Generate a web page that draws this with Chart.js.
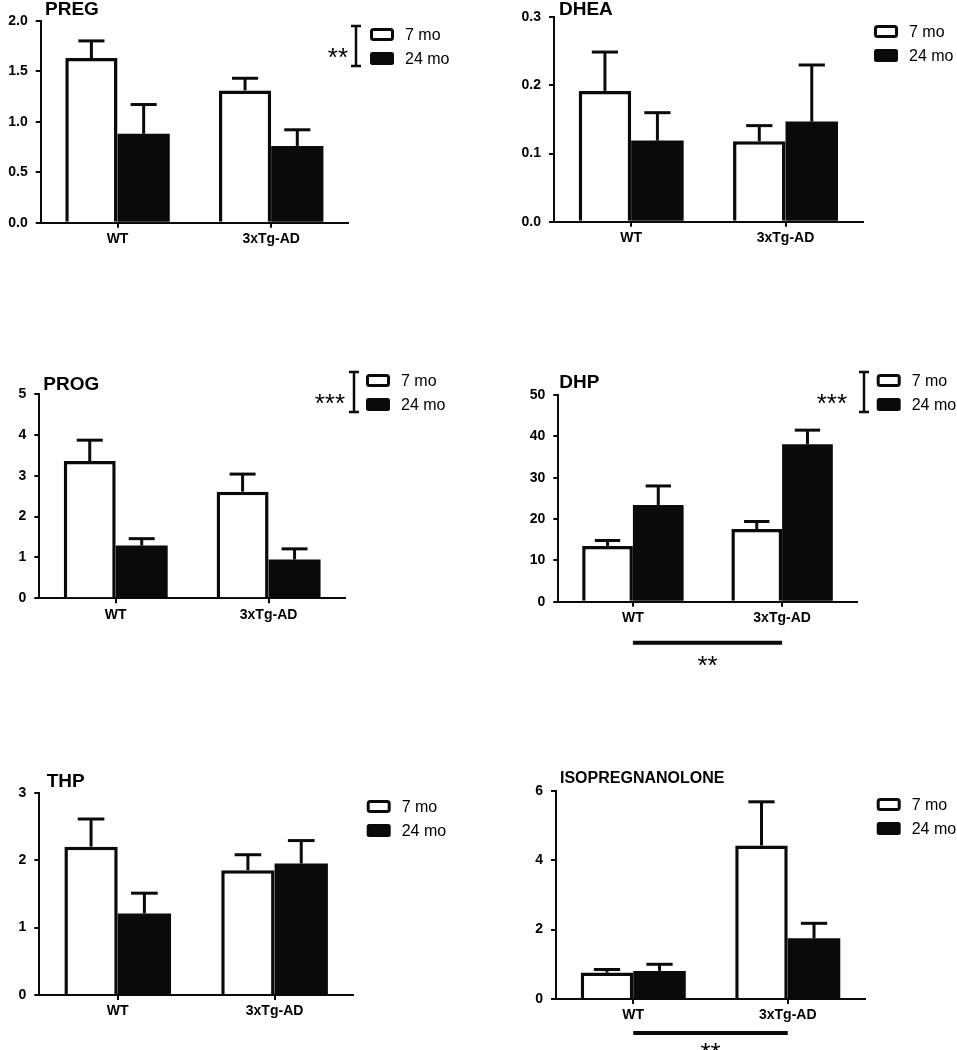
<!DOCTYPE html>
<html><head><meta charset="utf-8">
<script src="https://cdn.jsdelivr.net/npm/chart.js@4.4.1/dist/chart.umd.min.js"></script>
<style>
html,body{margin:0;padding:0;background:#fff;}
body{width:957px;height:1050px;position:relative;overflow:hidden;}
canvas{position:absolute;}
</style></head><body>
<canvas id="c0"></canvas><canvas id="c1"></canvas><canvas id="c2"></canvas>
<canvas id="c3"></canvas><canvas id="c4"></canvas><canvas id="c5"></canvas>
<script>
// ---------- DATA ----------
const categories = ['WT', '3xTg-AD'];
const seriesLabels = ['7 mo', '24 mo'];
const panelTitles = ['PREG', 'DHEA', 'PROG', 'DHP', 'THP', 'ISOPREGNANOLONE'];

const preg7 = [1.63, 1.31];   const preg7Sem = [0.17, 0.12];
const preg24 = [0.88, 0.76];  const preg24Sem = [0.29, 0.16];
const dhea7 = [0.192, 0.118]; const dhea7Sem = [0.057, 0.023];
const dhea24 = [0.119, 0.147];const dhea24Sem = [0.041, 0.083];
const prog7 = [3.36, 2.61];   const prog7Sem = [0.51, 0.43];
const prog24 = [1.29, 0.95];  const prog24Sem = [0.17, 0.26];
const dhp7 = [13.5, 17.6];    const dhp7Sem = [1.3, 1.8];
const dhp24 = [23.4, 38.1];   const dhp24Sem = [4.6, 3.4];
const thp7 = [2.20, 1.85];    const thp7Sem = [0.41, 0.23];
const thp24 = [1.21, 1.95];   const thp24Sem = [0.30, 0.34];
const iso7 = [0.76, 4.42];    const iso7Sem = [0.09, 1.26];
const iso24 = [0.81, 1.75];   const iso24Sem = [0.19, 0.43];

const pregTicks = ['0.0', '0.5', '1.0', '1.5', '2.0'];
const dheaTicks = ['0.0', '0.1', '0.2', '0.3'];
const progTicks = ['0', '1', '2', '3', '4', '5'];
const dhpTicks = ['0', '10', '20', '30', '40', '50'];
const thpTicks = ['0', '1', '2', '3'];
const isoTicks = ['0', '2', '4', '6'];

const ageSig = ['**', '', '***', '***', '', ''];
const genotypeSig = ['', '', '', '**', '', '**'];

// ---------- assembly ----------
const panelData = [
  [preg7, preg7Sem, preg24, preg24Sem, pregTicks, 2.0, 0.5],
  [dhea7, dhea7Sem, dhea24, dhea24Sem, dheaTicks, 0.3, 0.1],
  [prog7, prog7Sem, prog24, prog24Sem, progTicks, 5, 1],
  [dhp7, dhp7Sem, dhp24, dhp24Sem, dhpTicks, 50, 10],
  [thp7, thp7Sem, thp24, thp24Sem, thpTicks, 3, 1],
  [iso7, iso7Sem, iso24, iso24Sem, isoTicks, 6, 2]
];

// layout (page pixels)
const layouts = [
  {cv:[0,0,478,300],    plot:[40.7,20.7,348,222.7],  title:[45,15,19],    leg:[370,28],    sig:{x:356,right:348}},
  {cv:[478,0,479,300],  plot:[554,17.3,862.7,221.7], title:[559,15,19],   leg:[874,25]},
  {cv:[0,300,478,380],  plot:[39.3,394,345,598.3],   title:[43.3,390,19], leg:[366,374],   sig:{x:354,right:345}},
  {cv:[478,300,479,380],plot:[558.3,395,856.7,601.7],title:[559.3,388,19],leg:[876.7,374], sig:{x:864,right:847}, geno:{lineY:642.7, textBase:674}},
  {cv:[0,680,478,370],  plot:[39.3,792.7,353,995],   title:[46.7,787,19], leg:[366.7,800]},
  {cv:[478,680,479,370],plot:[556,790.7,865,999],    title:[560,783,16],  leg:[876.7,798], geno:{lineY:1033, textBase:1061}}
];

const FONT = "'Liberation Sans', Arial, sans-serif";
Chart.defaults.font.family = FONT;
Chart.defaults.color = '#000';
const YW = 39, XH = 40, INK = '#0a0a0a';

function roundRect(ctx, x, y, w, h, r) {
  ctx.beginPath();
  ctx.moveTo(x + r, y); ctx.lineTo(x + w - r, y); ctx.quadraticCurveTo(x + w, y, x + w, y + r);
  ctx.lineTo(x + w, y + h - r); ctx.quadraticCurveTo(x + w, y + h, x + w - r, y + h);
  ctx.lineTo(x + r, y + h); ctx.quadraticCurveTo(x, y + h, x, y + h - r);
  ctx.lineTo(x, y + r); ctx.quadraticCurveTo(x, y, x + r, y);
  ctx.closePath();
}

function makeDecor(idx, L) {
  const ox = L.cv[0], oy = L.cv[1];
  return {
    id: 'decor' + idx,
    afterDatasetsDraw(chart) {
      const ctx = chart.ctx, ys = chart.scales.y;
      ctx.save();
      ctx.strokeStyle = INK; ctx.lineWidth = 3; ctx.lineCap = 'butt';
      chart.data.datasets.forEach((ds, di) => {
        const meta = chart.getDatasetMeta(di);
        meta.data.forEach((bar, i) => {
          const top = ys.getPixelForValue(ds.data[i] + ds.sem[i]);
          const half = bar.width / 4;
          ctx.beginPath();
          ctx.moveTo(bar.x, bar.y); ctx.lineTo(bar.x, top);
          ctx.stroke();
          ctx.beginPath();
          ctx.moveTo(bar.x - half, top); ctx.lineTo(bar.x + half, top);
          ctx.stroke();
        });
      });
      ctx.restore();
    },
    afterDraw(chart) {
      const ctx = chart.ctx;
      ctx.save();
      // title
      ctx.fillStyle = '#000';
      ctx.font = 'bold ' + L.title[2] + 'px ' + FONT;
      ctx.textBaseline = 'alphabetic'; ctx.textAlign = 'left';
      ctx.fillText(panelTitles[idx], L.title[0] - ox, L.title[1] - oy);
      // legend
      const bx = L.leg[0] - ox, by = L.leg[1] - oy, bw = 24, bh = 13, gap = 24;
      chart.data.datasets.forEach((ds, di) => {
        const yy = by + di * gap;
        if (ds.backgroundColor === '#ffffff') {
          roundRect(ctx, bx + 1.5, yy + 1.5, bw - 3, bh - 3, 2);
          ctx.fillStyle = '#fff'; ctx.fill();
          ctx.strokeStyle = INK; ctx.lineWidth = 3; ctx.stroke();
        } else {
          roundRect(ctx, bx, yy, bw, bh, 2.5);
          ctx.fillStyle = INK; ctx.fill();
        }
        ctx.fillStyle = '#000';
        ctx.font = '16px ' + FONT;
        ctx.textBaseline = 'middle';
        ctx.fillText(ds.label, bx + bw + 11, yy + bh / 2 + 1);
      });
      // age significance bracket
      if (L.sig && ageSig[idx]) {
        const x = L.sig.x - ox, t = by - 2, b = by + gap + bh + 1;
        ctx.strokeStyle = INK; ctx.lineWidth = 2.5;
        ctx.beginPath();
        ctx.moveTo(x, t); ctx.lineTo(x, b);
        ctx.moveTo(x - 5, t); ctx.lineTo(x + 5, t);
        ctx.moveTo(x - 5, b); ctx.lineTo(x + 5, b);
        ctx.stroke();
        ctx.fillStyle = '#000';
        ctx.font = '26px ' + FONT;
        ctx.textAlign = 'right'; ctx.textBaseline = 'alphabetic';
        ctx.fillText(ageSig[idx], L.sig.right - ox, b);
      }
      // genotype significance line
      if (L.geno && genotypeSig[idx]) {
        const xs = chart.scales.x;
        const x1 = xs.getPixelForValue(0), x2 = xs.getPixelForValue(1);
        const ly = L.geno.lineY - oy;
        ctx.strokeStyle = INK; ctx.lineWidth = 4;
        ctx.beginPath(); ctx.moveTo(x1, ly); ctx.lineTo(x2, ly); ctx.stroke();
        ctx.fillStyle = '#000';
        ctx.font = '26px ' + FONT;
        ctx.textAlign = 'center'; ctx.textBaseline = 'alphabetic';
        ctx.fillText(genotypeSig[idx], (x1 + x2) / 2, L.geno.textBase - oy);
      }
      ctx.restore();
    }
  };
}

layouts.forEach((L, idx) => {
  const [v7, s7, v24, s24, tickLabels, ymax, step] = panelData[idx];
  const cv = document.getElementById('c' + idx);
  cv.width = L.cv[2]; cv.height = L.cv[3];
  cv.style.left = L.cv[0] + 'px'; cv.style.top = L.cv[1] + 'px';
  cv.style.width = L.cv[2] + 'px'; cv.style.height = L.cv[3] + 'px';
  const pad = {
    left: Math.max(0, L.plot[0] - L.cv[0] - YW),
    top: L.plot[1] - L.cv[1],
    right: L.cv[0] + L.cv[2] - L.plot[2],
    bottom: L.cv[1] + L.cv[3] - L.plot[3] - XH
  };
  new Chart(cv, {
    type: 'bar',
    data: {
      labels: categories,
      datasets: [
        {label: seriesLabels[0], data: v7, sem: s7, backgroundColor: '#ffffff', borderColor: INK, borderWidth: 3.5,
         categoryPercentage: 0.68, barPercentage: 1.0},
        {label: seriesLabels[1], data: v24, sem: s24, backgroundColor: INK, borderColor: INK, borderWidth: 0,
         categoryPercentage: 0.68, barPercentage: 1.0}
      ]
    },
    options: {
      responsive: false, animation: false, devicePixelRatio: 1,
      layout: {padding: pad},
      plugins: {legend: {display: false}, tooltip: {enabled: false}, title: {display: false}},
      scales: {
        x: {
          offset: true,
          grid: {offset: false, drawOnChartArea: false, drawTicks: true, tickLength: 5, color: INK, lineWidth: 2},
          border: {display: true, color: INK, width: 2},
          ticks: {color: '#000', font: {size: 14, weight: 'bold'}, padding: 3, maxRotation: 0},
          afterFit: s => { s.height = XH; }
        },
        y: {
          min: 0, max: ymax,
          grid: {drawOnChartArea: false, drawTicks: true, tickLength: 5, color: INK, lineWidth: 2},
          border: {display: true, color: INK, width: 2},
          ticks: {stepSize: step, color: '#000', font: {size: 14, weight: 'bold'}, padding: 8,
                  callback: (v, i) => tickLabels[i]},
          afterFit: s => { s.width = YW; }
        }
      }
    },
    plugins: [makeDecor(idx, L)]
  });
});
</script>
</body></html>
